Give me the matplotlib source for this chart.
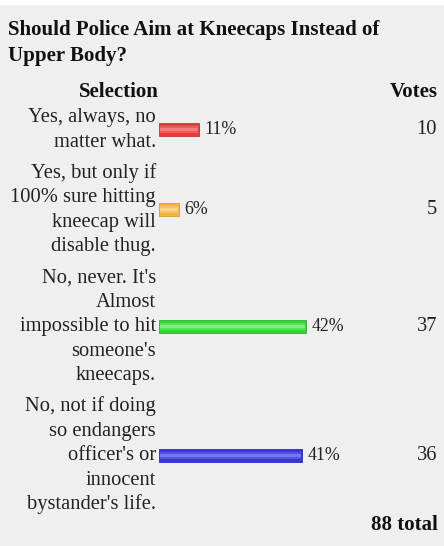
import matplotlib
matplotlib.use("Agg")
import matplotlib.pyplot as plt

# poll data
title_lines = ["Should Police Aim at Kneecaps Instead of", "Upper Body?"]
labels = [
    ["Yes, always, no", "matter what."],
    ["Yes, but only if", "100% sure hitting", "kneecap will", "disable thug."],
    ["No, never. It's", "Almost", "impossible to hit", "someone's", "kneecaps."],
    ["No, not if doing", "so endangers", "officer's or", "innocent", "bystander's life."],
]
votes = [10, 5, 37, 36]
bar_colors = ["#e63c3c", "#f2b440", "#35d435", "#3636da"]
mid_colors = ["#ee5a5a", "#f6c460", "#58e258", "#5252e6"]
light_colors = ["#f47c7c", "#f9d68a", "#84ee84", "#7676f0"]
edge_colors = ["#c83030", "#dc9c30", "#28b428", "#2a2ab8"]

total = sum(votes)
pcts = [v / total * 100 for v in votes]

W, H = 444, 546
fig = plt.figure(figsize=(W / 100, H / 100), dpi=100)
fig.patch.set_facecolor("#efefef")

# x in percent, y in pixels from top
px_per_pct = 3.5
bar_left = 159
ax = fig.add_axes([0, 0, 1, 1])
ax.set_xlim(-bar_left / px_per_pct, (W - bar_left) / px_per_pct)
ax.set_ylim(H, 0)
ax.axis("off")

# white strip on top
ax.axhspan(0, 4, color="white", zorder=0)

serif = "Liberation Serif"
lab_fs = 14.8
pct_fs = 12.8
head_fs = 15

def px(x):
    return (x - bar_left) / px_per_pct

for i, line in enumerate(title_lines):
    ax.text(px(8), 35 + i * 26, line, fontfamily=serif, fontweight="bold",
            fontsize=head_fs, ha="left", va="baseline", color="#111111")

ax.text(px(119), 97, "Selection", fontfamily=serif, fontweight="bold",
        fontsize=head_fs, ha="center", va="baseline", color="#111111")
ax.text(px(438), 97, "Votes", fontfamily=serif, fontweight="bold",
        fontsize=head_fs, ha="right", va="baseline", color="#111111")

line_h = 24.5
centers = []
c = 129.5
for i, lab in enumerate(labels):
    if i > 0:
        c += (len(labels[i - 1]) + len(lab)) / 2 * line_h + 6.5
    centers.append(c)

bar_h = 13
for i, lab in enumerate(labels):
    yc = centers[i]
    n = len(lab)
    for j, line in enumerate(lab):
        ax.text(px(156), yc + 5 + (j - (n - 1) / 2) * line_h, line,
                fontfamily=serif, fontsize=lab_fs, ha="right", va="baseline",
                color="#222222")
    ax.barh(yc, pcts[i], height=bar_h, left=0, color=bar_colors[i],
            edgecolor=edge_colors[i], linewidth=0.6, zorder=2)
    ax.barh(yc, pcts[i] - 0.4, height=bar_h * 0.55, left=0.2,
            color=mid_colors[i], linewidth=0, zorder=3)
    ax.barh(yc, pcts[i] - 0.4, height=bar_h * 0.25, left=0.2,
            color=light_colors[i], linewidth=0, zorder=4)
    ax.text(pcts[i] + 1.5, yc + 5, f"{pcts[i]:.0f}%", fontfamily=serif,
            fontsize=pct_fs, ha="left", va="baseline", color="#222222")
    ax.text(px(437), yc + 5, str(votes[i]), fontfamily=serif, fontsize=lab_fs,
            ha="right", va="baseline", color="#222222")

ax.text(px(438), 530, f"{total} total", fontfamily=serif, fontweight="bold",
        fontsize=head_fs, ha="right", va="baseline", color="#111111")

fig.savefig("out.png", dpi=100, facecolor=fig.get_facecolor())
